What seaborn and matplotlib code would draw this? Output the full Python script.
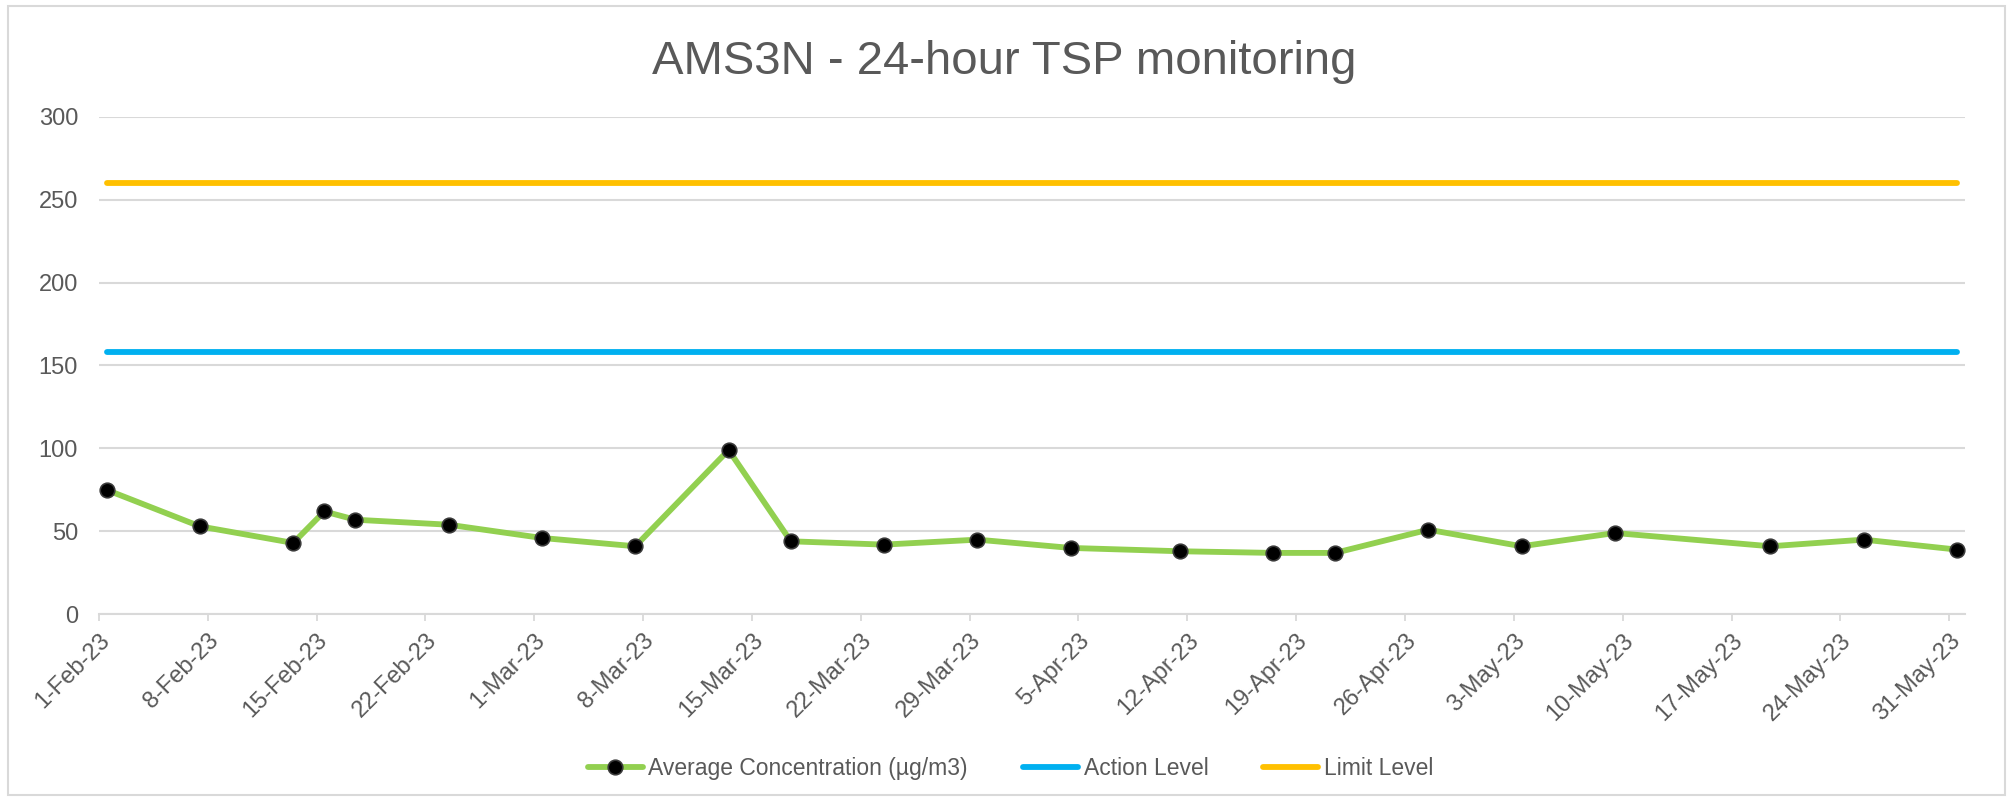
import matplotlib
matplotlib.use("Agg")
import matplotlib.pyplot as plt
from matplotlib.patches import Rectangle
import pandas as pd
import seaborn as sns

# Sampling dates and 24-hour TSP results (µg/m3)
sample_dates = ["2023-02-01", "2023-02-07", "2023-02-13", "2023-02-15", "2023-02-17",
                "2023-02-23", "2023-03-01", "2023-03-07", "2023-03-13", "2023-03-17",
                "2023-03-23", "2023-03-29", "2023-04-04", "2023-04-11", "2023-04-17",
                "2023-04-21", "2023-04-27", "2023-05-03", "2023-05-09", "2023-05-19",
                "2023-05-25", "2023-05-31"]
avg_concentration = [75, 53, 43, 62, 57, 54, 46, 41, 99, 44, 42, 45,
                     40, 38, 37, 37, 51, 41, 49, 41, 45, 39]
action_level = 158
limit_level = 260

series_names = ["Average Concentration (µg/m3)", "Action Level", "Limit Level"]
title_text = "AMS3N - 24-hour TSP monitoring"

# each daily value sits in the middle of its day slot
dates = pd.to_datetime(sample_dates) + pd.Timedelta(hours=12)
df = pd.DataFrame({
    "date": dates,
    "avg": avg_concentration,
    "action": [action_level] * len(dates),
    "limit": [limit_level] * len(dates),
})

sns.set_style("white")
plt.rcParams["font.family"] = ["Liberation Sans", "DejaVu Sans"]

TEXT = "#595959"
GRID = "#d9d9d9"

fig = plt.figure(figsize=(20.09, 8.01), dpi=100)
ax = fig.add_axes([0.0492, 0.2331, 0.9288, 0.6213])

sns.lineplot(data=df, x="date", y="avg", ax=ax, color="#92D050", lw=4.2,
             marker="o", markersize=10.5, markerfacecolor="black",
             markeredgecolor="#3a3a3a", markeredgewidth=1.2,
             solid_capstyle="round", label=series_names[0], zorder=4)
sns.lineplot(data=df, x="date", y="action", ax=ax, color="#00B0F0", lw=4.2,
             solid_capstyle="round", label=series_names[1], zorder=3)
sns.lineplot(data=df, x="date", y="limit", ax=ax, color="#FFC000", lw=4.2,
             solid_capstyle="round", label=series_names[2], zorder=3)

ax.set_xlim(pd.Timestamp("2023-02-01"), pd.Timestamp("2023-06-01"))
ax.set_ylim(0, 300)
ax.set_yticks(range(0, 301, 50))
ticks = pd.date_range("2023-02-01", "2023-05-31", freq="7D")
ax.set_xticks(ticks)
ax.set_xticklabels([f"{d.day}-{d.strftime('%b-%y')}" for d in ticks],
                   rotation=45, ha="right", rotation_mode="anchor")

ax.set_xlabel("")
ax.set_ylabel("")
ax.grid(axis="y", color=GRID, lw=1.5)
ax.grid(axis="x", visible=False)
ax.set_axisbelow(True)
for side in ["top", "right", "left"]:
    ax.spines[side].set_visible(False)
ax.spines["bottom"].set_color(GRID)
ax.spines["bottom"].set_linewidth(1.5)

ax.tick_params(axis="y", length=0, pad=15, labelsize=17, labelcolor=TEXT)
ax.tick_params(axis="x", length=5, width=1.3, color=GRID, pad=6,
               labelsize=17, labelcolor=TEXT, bottom=True)

ax.get_legend().remove()
handles, labels = ax.get_legend_handles_labels()
fig.legend(handles, labels, loc="center", bbox_to_anchor=(0.503, 0.041),
           ncol=3, frameon=False, fontsize=16.5, labelcolor=TEXT,
           handlelength=2.4, handletextpad=0.25, columnspacing=2.4)

fig.text(0.5, 0.923, title_text, ha="center", va="center",
         fontsize=34, color=TEXT)

fig.patches.append(Rectangle((0.004, 0.008), 0.994, 0.984,
                             transform=fig.transFigure, fill=False,
                             edgecolor=GRID, lw=1.5))

fig.savefig("out.png", dpi=100, facecolor="white")
